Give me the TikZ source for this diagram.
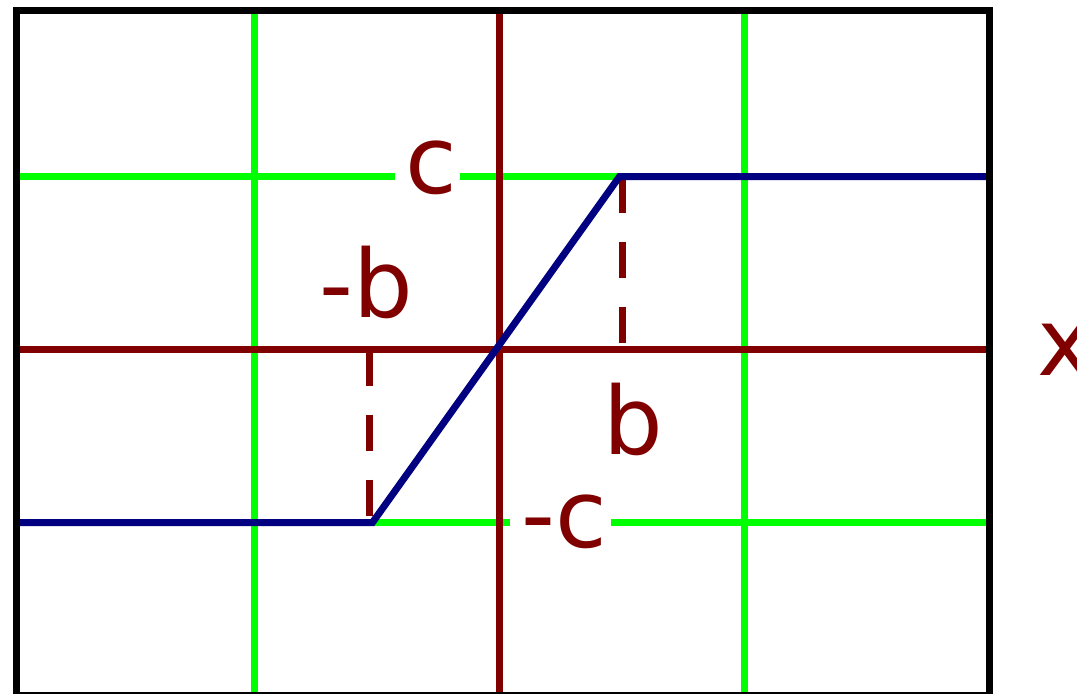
\documentclass[tikz,border=0pt]{standalone}
\usepackage{fontspec}
\setmainfont{DejaVu Sans}

\definecolor{grid}{RGB}{0,255,0}
\definecolor{axis}{RGB}{128,0,0}
\definecolor{curve}{RGB}{0,0,128}

\begin{document}
\begin{tikzpicture}
        [x=0.5pt,y=-0.5pt,line width=3.5pt,
         lbl/.style={text=axis,inner sep=0,anchor=base,font=\fontsize{47}{50}\selectfont}]

        \useasboundingbox (0,0) rectangle (1077,693);
        \clip (0,0) rectangle (1077,693);
        \fill[white] (0,0) rectangle (1077,693);

        % green grid lines
        \draw[grid] (254.5,10) -- (254.5,693);
        \draw[grid] (744.5,10) -- (744.5,693);
        \draw[grid] (16,176.5) -- (395,176.5);
        \draw[grid] (460,176.5) -- (620,176.5);
        \draw[grid] (372,522.5) -- (510,522.5);
        \draw[grid] (611,522.5) -- (988,522.5);

        % axes
        \draw[axis] (16,349.5) -- (991,349.5);
        \draw[axis] (499.5,10) -- (499.5,693);

        % dashed drops
        \draw[axis,dash pattern=on 18pt off 14.5pt] (369.5,349.5) -- (369.5,522.5);
        \draw[axis,dash pattern=on 18pt off 14.5pt] (622.5,176.5) -- (622.5,349.5);

        % the curve
        \draw[curve] (16,522.5) -- (372.5,522.5) -- (619.5,176.5) -- (988,176.5);

        % frame
        \draw[black] (16.5,10.5) rectangle (989.5,695.5);

        \node[lbl] (c) at (431,193) {c};
        \node[lbl] (mb) at (366,317) {-b};
        \node[lbl] (b) at (633,454) {b};
        \node[lbl] (mc) at (564.5,547) {-c};
        \node[lbl,anchor=base west] (x) at (1034,375) {x};
      \end{tikzpicture}
\end{document}
